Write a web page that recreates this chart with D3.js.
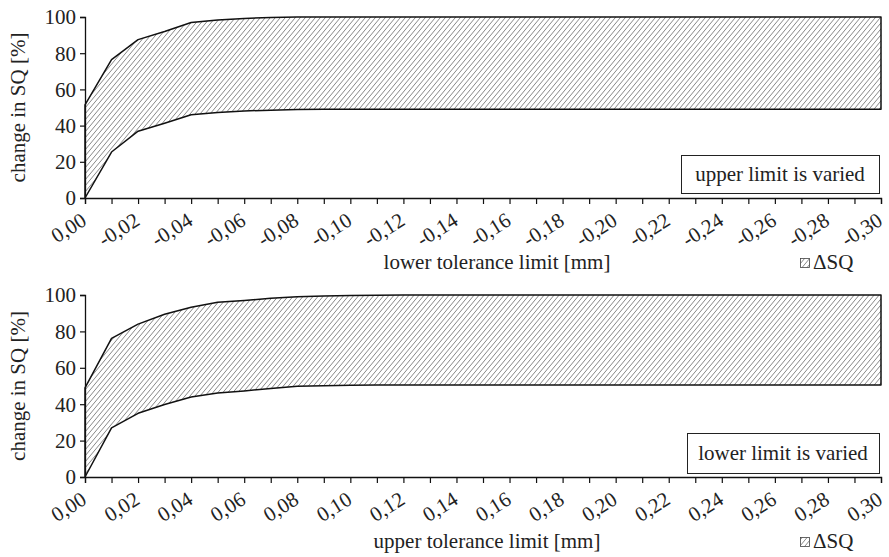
<!DOCTYPE html>
<html><head><meta charset="utf-8">
<script src="https://cdn.jsdelivr.net/npm/d3@7"></script>
<style>
body{margin:0;background:#fff;}
</style></head>
<body><svg id="c" width="889" height="557"></svg>
<script>
// x positions (tolerance limit in mm, magnitude)
const xValues = [0.00,0.01,0.02,0.03,0.04,0.05,0.06,0.07,0.08,0.09,0.10,0.11,0.12,0.13,0.14,0.15,0.16,0.17,0.18,0.19,0.20,0.21,0.22,0.23,0.24,0.25,0.26,0.27,0.28,0.29,0.30];
const topLabels = ["0,00","-0,02","-0,04","-0,06","-0,08","-0,10","-0,12","-0,14","-0,16","-0,18","-0,20","-0,22","-0,24","-0,26","-0,28","-0,30"];
const bottomLabels = ["0,00","0,02","0,04","0,06","0,08","0,10","0,12","0,14","0,16","0,18","0,20","0,22","0,24","0,26","0,28","0,30"];
const yTicks = [0,20,40,60,80,100];
// top chart: upper limit is varied
const topUpper = [51.5,76.5,87.5,92,97,98.4,99.2,99.7,100,100,100,100,100,100,100,100,100,100,100,100,100,100,100,100,100,100,100,100,100,100,100];
const topLower = [0,25.4,36.9,41.3,46,47.3,48.1,48.5,48.9,49,49,49,49,49,49,49,49,49,49,49,49,49,49,49,49,49,49,49,49,49,49];
// bottom chart: lower limit is varied
const botUpper = [49,76.2,84,89.4,93.3,96,97,98.2,99,99.4,99.7,99.9,100,100,100,100,100,100,100,100,100,100,100,100,100,100,100,100,100,100,100];
const botLower = [0,27,35,39.8,44,46.2,47.3,48.6,49.9,50.2,50.4,50.5,50.5,50.5,50.5,50.5,50.5,50.5,50.5,50.5,50.5,50.5,50.5,50.5,50.5,50.5,50.5,50.5,50.5,50.5,50.5];

const FONT = "'Liberation Serif', 'Times New Roman', Times, serif";
const FS = "21px";
const svg = d3.select("#c");
const defs = svg.append("defs");
const pw = 5, ph = 6;
const pat = defs.append("pattern").attr("id","hatch").attr("patternUnits","userSpaceOnUse")
  .attr("width",pw).attr("height",ph);
pat.append("path")
  .attr("d",`M${-pw},${2*ph}L${2*pw},${-ph} M${-pw},${ph}L${pw},${-ph} M0,${2*ph}L${2*pw},0`)
  .attr("stroke","#6a6a6a").attr("stroke-width",0.8).attr("fill","none");

const x = d3.scaleLinear().domain([0,0.30]).range([85,881]);

function txt(sel){ return sel.style("font-family",FONT).style("font-size",FS).attr("fill","#222"); }

function panel(cfg){
  const y = d3.scaleLinear().domain([0,100]).range([cfg.y0, cfg.y1]);
  const g = svg.append("g");
  const pts = xValues.map((v,i)=>({x:v,u:cfg.upper[i],l:cfg.lower[i]}));
  const area = d3.area().x(d=>x(d.x)).y0(d=>y(d.l)).y1(d=>y(d.u));
  g.append("path").datum(pts).attr("d",area)
    .attr("fill","url(#hatch)").attr("stroke","#111").attr("stroke-width",1.5).attr("stroke-linejoin","round");
  // y axis
  const ya = g.append("g").attr("transform",`translate(85,0)`)
    .call(d3.axisLeft(y).tickValues(yTicks).tickSize(5).tickPadding(4));
  ya.attr("font-family",null).attr("font-size",null);
  ya.select(".domain").attr("stroke","#111").attr("stroke-width",1.3);
  ya.selectAll(".tick line").attr("stroke","#111").attr("stroke-width",1.2);
  txt(ya.selectAll("text")).attr("dy","0.33em");
  // x axis
  const xa = g.append("g").attr("transform",`translate(0,${cfg.y0})`)
    .call(d3.axisBottom(x).tickValues(xValues).tickSize(6).tickFormat(""));
  xa.select(".domain").attr("stroke","#111").attr("stroke-width",1.3);
  xa.selectAll(".tick line").attr("stroke","#111").attr("stroke-width",1.2);
  const labelVals = xValues.filter((v,i)=>i%2===0);
  txt(g.selectAll("text.xl").data(labelVals).enter().append("text").attr("class","xl")
    .attr("transform",(d)=>`translate(${x(d)+3},${cfg.y0+26}) rotate(-32)`)
    .attr("text-anchor","end")
    .text((d,i)=>cfg.labels[i]));
  // y title
  txt(g.append("text").attr("transform",`translate(25,${(cfg.y0+cfg.y1)/2}) rotate(-90)`)
    .attr("text-anchor","middle").text("change in SQ [%]"));
  // x title
  txt(g.append("text").attr("x",cfg.titleX).attr("y",cfg.titleY).attr("text-anchor","middle")
    .text(cfg.title));
  // legend
  g.append("rect").attr("x",800.5).attr("y",cfg.titleY-10.5).attr("width",9).attr("height",9)
    .attr("fill","url(#hatch)").attr("stroke","#444").attr("stroke-width",0.8);
  txt(g.append("text").attr("x",813).attr("y",cfg.titleY).text("ΔSQ"));
  // box
  g.append("rect").attr("x",cfg.box[0]+0.5).attr("y",cfg.box[1]+0.5).attr("width",cfg.box[2]).attr("height",cfg.box[3])
    .attr("fill","#fff").attr("stroke","#222").attr("stroke-width",1);
  txt(g.append("text").attr("x",cfg.box[0]+cfg.box[2]/2).attr("y",cfg.box[1]+cfg.box[3]/2).attr("dy","0.35em")
    .attr("text-anchor","middle").text(cfg.boxText));
}

panel({y0:198,y1:17,upper:topUpper,lower:topLower,labels:topLabels,
  title:"lower tolerance limit [mm]",titleX:497,titleY:269,box:[681,155,198,38],boxText:"upper limit is varied"});
panel({y0:477,y1:295,upper:botUpper,lower:botLower,labels:bottomLabels,
  title:"upper tolerance limit [mm]",titleX:487,titleY:548,box:[687,433,192,40],boxText:"lower limit is varied"});
</script></body></html>
